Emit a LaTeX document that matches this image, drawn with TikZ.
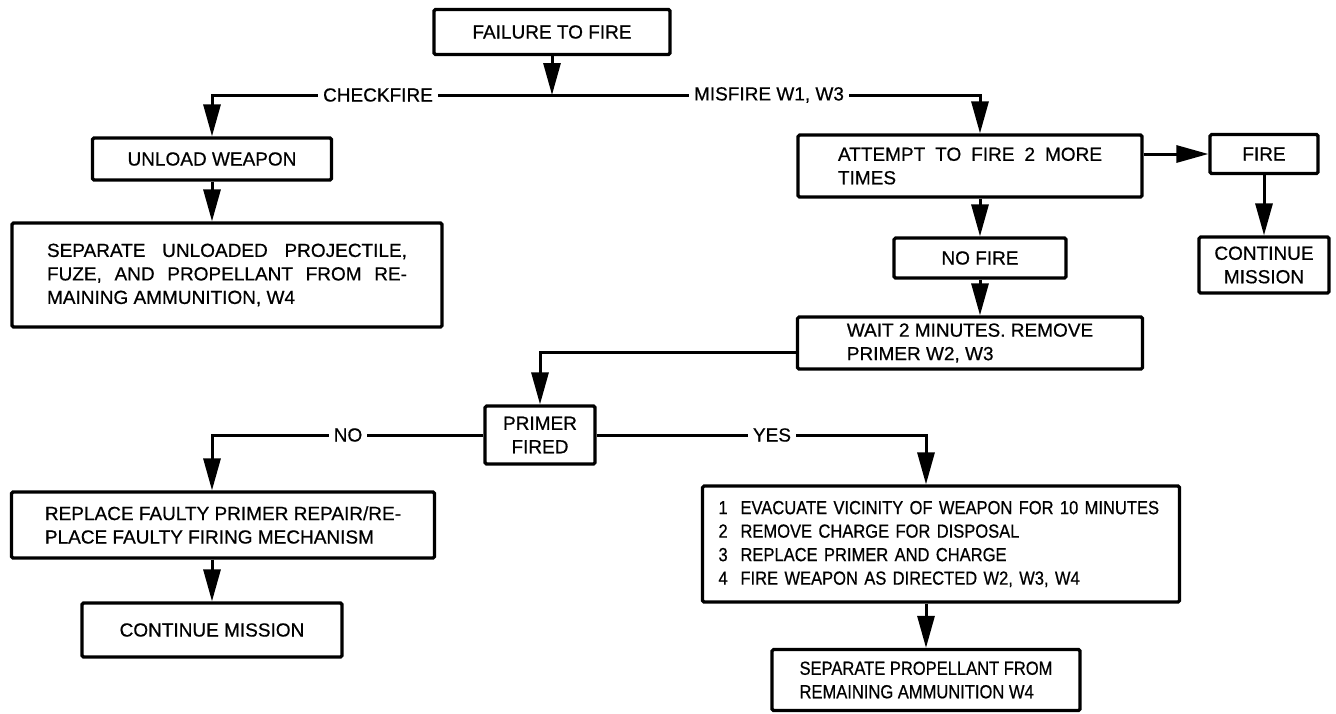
\documentclass[tikz,border=0pt]{standalone}
\usepackage{fontspec}
\setmainfont{Liberation Sans}[FakeBold=0.6]
\newfontfamily\narrowfont{Liberation Sans}[FakeStretch=0.87,FakeBold=0.6]
\usepackage{tikz}
\usetikzlibrary{arrows.meta}

\begin{document}
\begin{tikzpicture}[x=1pt,y=-1pt,
		font=\fontsize{19}{23.5}\selectfont,
		narrow/.style={font=\narrowfont\fontsize{19}{23.5}\selectfont},
		box/.style={draw, line width=3.2pt, rounded corners=1.5pt, inner sep=0pt, align=center},
		lbl/.style={fill=white, inner xsep=5pt, inner ysep=2pt},
		link/.style={line width=3pt},
		flow/.style={link, -{Triangle[length=32pt,width=17pt]}}]
			\useasboundingbox (0,0) rectangle (1336,713);
			% boxes
			\node[box, minimum width=236pt, minimum height=45pt] (fail) at (552,32) {FAILURE TO FIRE};
			\node[box, minimum width=239pt, minimum height=42pt] (unload) at (212,159) {UNLOAD WEAPON};
			\node[box, minimum width=430pt, minimum height=104pt, text width=360pt, align=justify] (sepunl) at (227,275)
				{SEPARATE UNLOADED PROJECTILE,\linebreak FUZE, AND PROPELLANT FROM RE-\linebreak MAINING AMMUNITION, W4};
			\node[box, minimum width=344pt, minimum height=62pt, text width=264pt, align=justify] (attempt) at (970,166)
				{ATTEMPT TO FIRE 2 MORE\linebreak TIMES};
			\node[box, minimum width=108pt, minimum height=39pt] (fire) at (1264,154) {FIRE};
			\node[box, minimum width=130pt, minimum height=56pt] (cont2) at (1264,265) {CONTINUE\\MISSION};
			\node[box, minimum width=172pt, minimum height=40pt] (nofire) at (980,258) {NO FIRE};
			\node[box, minimum width=345pt, minimum height=52pt, align=left] (wait) at (970,343) {WAIT 2 MINUTES. REMOVE\\PRIMER W2, W3};
			\node[box, minimum width=110pt, minimum height=58pt] (primer) at (540,435) {PRIMER\\FIRED};
			\node[box, minimum width=423pt, minimum height=66pt, align=left] (replace) at (223,525)
				{REPLACE FAULTY PRIMER REPAIR/RE-\\PLACE FAULTY FIRING MECHANISM};
			\node[box, minimum width=260pt, minimum height=54pt] (cont1) at (212,630) {CONTINUE MISSION};
			\node[box, narrow, minimum width=477pt, minimum height=116pt, text width=445pt, align=left] (evac) at (941,544)
				{\makebox[22pt][l]{1}EVACUATE VICINITY OF WEAPON FOR 10 MINUTES\\
				\makebox[22pt][l]{2}REMOVE CHARGE FOR DISPOSAL\\
				\makebox[22pt][l]{3}REPLACE PRIMER AND CHARGE\\
				\makebox[22pt][l]{4}FIRE WEAPON AS DIRECTED W2, W3, W4};
			\node[box, narrow, minimum width=308pt, minimum height=61pt, align=left] (seppro) at (926,680)
				{SEPARATE PROPELLANT FROM\\REMAINING AMMUNITION W4};
			% branch labels
			\node[lbl] (chk) at (378,95) {CHECKFIRE};
			\node[lbl] (mis) at (769,95) {MISFIRE W1, W3};
			\node[lbl] (no) at (348,435) {NO};
			\node[lbl] (yes) at (772,435) {YES};
			% connectors
			\draw[flow] (fail) -- (fail.south |- chk);
			\draw[link] (chk.east) -- (mis.west);
			\draw[flow] (chk.west) -| (unload.north);
			\draw[flow] (unload.south) -- (unload.south |- sepunl.north);
			\draw[flow] (mis.east) -| (attempt.north -| nofire.north);
			\draw[flow] (fire.west -| attempt.east) -- (fire.west);
			\draw[flow] (fire) -- (cont2);
			\draw[flow] (attempt.south -| nofire.north) -- (nofire);
			\draw[flow] (nofire) -- (wait.north -| nofire.south);
			\draw[flow] ([yshift=-9pt]wait.west) -| (primer.north);
			\draw[link] (primer.west) -- (no.east);
			\draw[flow] (no.west) -| (replace.north -| cont1.north);
			\draw[link] (primer.east) -- (yes.west);
			\draw[flow] (yes.east) -| (evac.north -| seppro.north);
			\draw[flow] (replace.south -| cont1.north) -- (cont1);
			\draw[flow] (evac.south -| seppro.north) -- (seppro);
		\end{tikzpicture}
\end{document}
